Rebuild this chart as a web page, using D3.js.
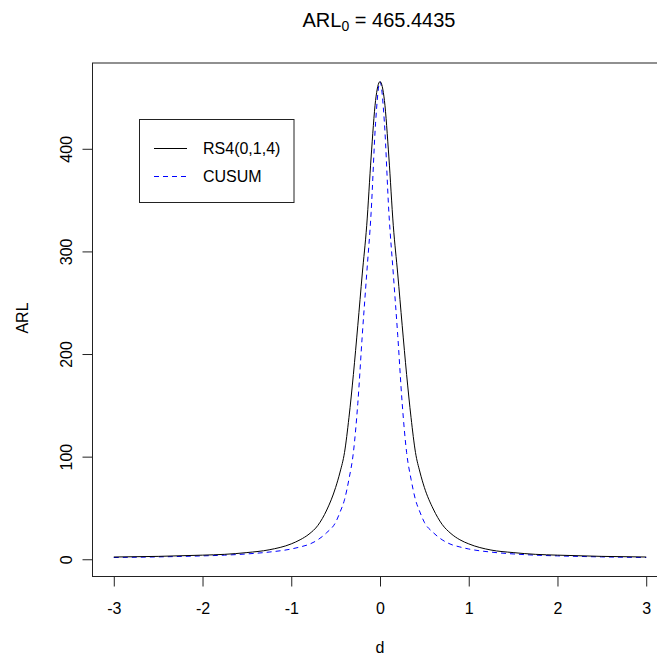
<!DOCTYPE html>
<html>
<head>
<meta charset="utf-8">
<script src="https://cdn.jsdelivr.net/npm/d3@7/dist/d3.min.js"></script>
<style>
  html, body { margin: 0; padding: 0; background: #fff; }
  svg { display: block; font-family: "Liberation Sans", Arial, sans-serif; }
</style>
</head>
<body>
<svg id="chart" width="657" height="659"></svg>
<script>
// ---- data ----
const shifts = [-3, -2.5, -2, -1.75, -1.5, -1.25, -1, -0.9, -0.8, -0.7, -0.6, -0.5, -0.45, -0.4, -0.35, -0.3, -0.25, -0.2, -0.15, -0.1, -0.05, 0,
                0.05, 0.1, 0.15, 0.2, 0.25, 0.3, 0.35, 0.4, 0.45, 0.5, 0.6, 0.7, 0.8, 0.9, 1, 1.25, 1.5, 1.75, 2, 2.5, 3];
const arlRS4 = [2.2, 2.8, 4, 4.8, 6.5, 9.2, 15, 19, 24.5, 33, 48, 70, 85, 104, 138, 180, 228, 278, 325, 392, 447, 465.44,
                447, 392, 325, 278, 228, 180, 138, 104, 85, 70, 49, 34, 25, 19, 15, 9, 6.5, 4.8, 4, 2.8, 2.2];
const arlCUSUM = [1.7, 2.3, 3.3, 4, 5.2, 7, 10, 12, 14.5, 19, 26, 36, 46, 58, 78, 104, 152, 218, 278, 338, 425, 465.44,
                  425, 338, 278, 218, 152, 104, 78, 58, 46, 36, 26, 19, 14.5, 12, 10, 7, 5.2, 4, 3.3, 2.3, 1.7];
const xTicks = [-3, -2, -1, 0, 1, 2, 3];
const yTicks = [0, 100, 200, 300, 400];
const seriesNames = ["RS4(0,1,4)", "CUSUM"];
const seriesColors = ["#000000", "#0000ff"];
const titleMain = "ARL", titleSub = "0", titleRest = " = 465.4435";

// ---- layout ----
const svg = d3.select("#chart");
const mLeft = 92.5, mRight = 667.5, mTop = 63, mBottom = 576.5;
const x = d3.scaleLinear().domain([-3.24, 3.24]).range([mLeft, mRight]);
const y = d3.scaleLinear().domain([-16.8, 483.6]).range([mBottom, mTop]);

// plot box
svg.append("rect").attr("x", mLeft).attr("y", mTop)
  .attr("width", mRight - mLeft).attr("height", mBottom - mTop)
  .attr("fill", "none").attr("stroke", "#222").attr("stroke-width", 1);

// x axis
const xAxis = d3.axisBottom(x).tickValues(xTicks).tickSize(10).tickPadding(16)
  .tickFormat(d => d3.format("d")(d).replace("−", "-"));
const gx = svg.append("g").attr("transform", `translate(0,${mBottom})`).call(xAxis);
gx.select(".domain").attr("d", `M${x(-3)},0H${x(3)}`).attr("stroke", "#222");
gx.selectAll(".tick line").attr("stroke", "#222");
gx.selectAll("text").attr("font-size", 16).attr("fill", "#000")
  .attr("font-family", "Liberation Sans, Arial, sans-serif");

// y axis
const yAxis = d3.axisLeft(y).tickValues(yTicks).tickSize(10).tickFormat(d3.format("d"));
const gy = svg.append("g").attr("transform", `translate(${mLeft},0)`).call(yAxis);
gy.select(".domain").attr("d", `M0,${y(0)}V${y(400)}`).attr("stroke", "#222");
gy.selectAll(".tick line").attr("stroke", "#222");
gy.selectAll("text")
  .attr("font-size", 16).attr("fill", "#000")
  .attr("font-family", "Liberation Sans, Arial, sans-serif")
  .attr("x", null)
  .attr("text-anchor", "middle")
  .attr("transform", "translate(-26,0) rotate(-90)")
  .attr("dy", "0.35em");

// axis titles
svg.append("text").attr("x", x(0)).attr("y", 653).attr("text-anchor", "middle")
  .attr("font-size", 16).text("d");
svg.append("text").attr("transform", `translate(28,318) rotate(-90)`)
  .attr("text-anchor", "middle").attr("font-size", 16).text("ARL");

// title
const t = svg.append("text").attr("x", 379).attr("y", 27).attr("text-anchor", "middle")
  .attr("font-size", 20);
t.append("tspan").text(titleMain);
t.append("tspan").attr("font-size", 14).attr("dy", 4).text(titleSub);
t.append("tspan").attr("dy", -4).text(titleRest);

// lines
const line = d3.line().x((d, i) => x(shifts[i])).y(d => y(d)).curve(d3.curveMonotoneX);
svg.append("path").datum(arlCUSUM).attr("d", line)
  .attr("fill", "none").attr("stroke", seriesColors[1]).attr("stroke-width", 1)
  .attr("stroke-dasharray", "5,4");
svg.append("path").datum(arlRS4).attr("d", line)
  .attr("fill", "none").attr("stroke", seriesColors[0]).attr("stroke-width", 1);

// legend
const lg = svg.append("g");
lg.append("rect").attr("x", 139.5).attr("y", 119.5).attr("width", 154.5).attr("height", 83)
  .attr("fill", "#fff").attr("stroke", "#222");
const ly = [148.5, 176.5];
seriesNames.forEach((name, i) => {
  lg.append("line").attr("x1", 154).attr("x2", 187).attr("y1", ly[i]).attr("y2", ly[i])
    .attr("stroke", seriesColors[i]).attr("stroke-width", 1)
    .attr("stroke-dasharray", i === 1 ? "5,4" : null);
  lg.append("text").attr("x", 203).attr("y", ly[i]).attr("dy", "0.35em")
    .attr("font-size", 16).text(name);
});
</script>
</body>
</html>
